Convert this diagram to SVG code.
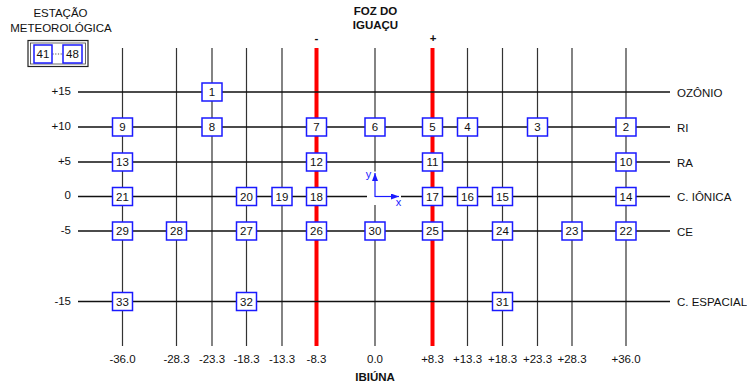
<svg xmlns="http://www.w3.org/2000/svg" width="747" height="387" viewBox="0 0 747 387">
  <style>
    text { font-family: "Liberation Sans", Arial, sans-serif; font-size: 11.5px; fill: #111; }
    .b { font-weight: bold; }
    .mid { text-anchor: middle; }
    .end { text-anchor: end; }
    .v { stroke: #333; stroke-width: 1.2; fill: none; }
    .h { stroke: #111; stroke-width: 1.4; fill: none; }
    .red { stroke: #ff0000; stroke-width: 4; fill: none; }
    .node rect { fill: #fff; stroke: #1a1aff; stroke-width: 1.5; }
    .node text { text-anchor: middle; }
    .axis { stroke: #1a1aff; stroke-width: 1.2; fill: none; }
    .axlbl { fill: #1a1aff; font-size: 11px; text-anchor: middle; }
  </style>
  <defs>
    <marker id="ah" markerWidth="8" markerHeight="6" refX="8" refY="3" orient="auto" markerUnits="userSpaceOnUse">
      <path d="M0,0 L8,3 L0,6 Z" fill="#1a1aff"/>
    </marker>
  </defs>

  <rect width="747" height="387" fill="#fff"/>

  <!-- titles -->
  <text class="mid" x="60.5" y="16.5" font-size="11">ESTAÇÃO</text>
  <text class="mid" x="61" y="32" font-size="11">METEOROLÓGICA</text>
  <text class="mid b" x="375.5" y="15">FOZ DO</text>
  <text class="mid b" x="375.5" y="29">IGUAÇU</text>
  <text class="mid b" x="316.5" y="42" font-size="14">-</text>
  <text class="mid b" x="433" y="42" font-size="14">+</text>
  <text class="mid b" x="375" y="381">IBIÚNA</text>

  <!-- connectors: grid lines -->
  <g id="connectors">
    <!-- vertical lines -->
    <path class="v" d="M122.5,48V346 M176.5,48V346 M212,48V346 M246.5,48V346 M282,48V346 M375,48V171.5 M375,205V346 M467.5,48V346 M502.5,48V346 M537.5,48V346 M572,48V346 M626,48V346"/>
    <path class="red" d="M316.5,48V346 M432.5,48V346"/>
    <!-- horizontal lines -->
    <path class="h" d="M78,92H670 M78,127H670 M78,162H670 M78,196.5H367 M401,196.5H670 M78,231H670 M78,301.5H670"/>
    <!-- reference axes -->
    <line class="axis" x1="375" y1="197" x2="375" y2="173" marker-end="url(#ah)"/>
    <line class="axis" x1="375" y1="196.5" x2="399" y2="196.5" marker-end="url(#ah)"/>
  </g>
  <text class="axlbl" x="368.5" y="178">y</text>
  <text class="axlbl" x="398.5" y="205.5">x</text>

  <!-- row labels -->
  <text class="end" x="71" y="95">+15</text>
  <text class="end" x="71" y="130">+10</text>
  <text class="end" x="71" y="165">+5</text>
  <text class="end" x="71" y="199">0</text>
  <text class="end" x="71" y="234">-5</text>
  <text class="end" x="71" y="304.5">-15</text>

  <text x="677" y="96.5">OZÔNIO</text>
  <text x="677" y="131.5">RI</text>
  <text x="677" y="166.5">RA</text>
  <text x="677" y="201">C. IÔNICA</text>
  <text x="677" y="235.5">CE</text>
  <text x="677" y="306">C. ESPACIAL</text>

  <!-- column labels -->
  <g class="mid">
    <text class="mid" x="122.5" y="363">-36.0</text>
    <text class="mid" x="176.5" y="363">-28.3</text>
    <text class="mid" x="212" y="363">-23.3</text>
    <text class="mid" x="246.5" y="363">-18.3</text>
    <text class="mid" x="282" y="363">-13.3</text>
    <text class="mid" x="316.5" y="363">-8.3</text>
    <text class="mid" x="375" y="363">0.0</text>
    <text class="mid" x="432.5" y="363">+8.3</text>
    <text class="mid" x="467.5" y="363">+13.3</text>
    <text class="mid" x="502.5" y="363">+18.3</text>
    <text class="mid" x="537.5" y="363">+23.3</text>
    <text class="mid" x="572" y="363">+28.3</text>
    <text class="mid" x="626" y="363">+36.0</text>
  </g>

  <!-- weather station -->
  <g id="station">
    <rect x="28" y="40.5" width="60" height="26" fill="#fff" stroke="#222" stroke-width="1.2"/>
    <rect x="30.5" y="43" width="55" height="21" fill="none" stroke="#444" stroke-width="0.8"/>
    <line x1="52.5" y1="54" x2="62" y2="54" stroke="#555" stroke-width="1" stroke-dasharray="1.2,1.5"/>
    <g id="n41" class="node"><rect x="34" y="45" width="18" height="18"/><text x="43" y="58">41</text></g>
    <g id="n48" class="node"><rect x="63" y="45" width="19" height="18"/><text x="72.5" y="58">48</text></g>
  </g>

  <!-- nodes -->
  <g id="n1" class="node"><rect x="202" y="83" width="20" height="18"/><text x="212" y="96">1</text></g>

  <g id="n9" class="node"><rect x="112.5" y="118" width="20" height="18"/><text x="122.5" y="131">9</text></g>
  <g id="n8" class="node"><rect x="202" y="118" width="20" height="18"/><text x="212" y="131">8</text></g>
  <g id="n7" class="node"><rect x="306.5" y="118" width="20" height="18"/><text x="316.5" y="131">7</text></g>
  <g id="n6" class="node"><rect x="365" y="118" width="20" height="18"/><text x="375" y="131">6</text></g>
  <g id="n5" class="node"><rect x="422.5" y="118" width="20" height="18"/><text x="432.5" y="131">5</text></g>
  <g id="n4" class="node"><rect x="457.5" y="118" width="20" height="18"/><text x="467.5" y="131">4</text></g>
  <g id="n3" class="node"><rect x="527.5" y="118" width="20" height="18"/><text x="537.5" y="131">3</text></g>
  <g id="n2" class="node"><rect x="616" y="118" width="20" height="18"/><text x="626" y="131">2</text></g>

  <g id="n13" class="node"><rect x="112.5" y="153" width="20" height="18"/><text x="122.5" y="166">13</text></g>
  <g id="n12" class="node"><rect x="306.5" y="153" width="20" height="18"/><text x="316.5" y="166">12</text></g>
  <g id="n11" class="node"><rect x="422.5" y="153" width="20" height="18"/><text x="432.5" y="166">11</text></g>
  <g id="n10" class="node"><rect x="616" y="153" width="20" height="18"/><text x="626" y="166">10</text></g>

  <g id="n21" class="node"><rect x="112.5" y="187.5" width="20" height="18"/><text x="122.5" y="200.5">21</text></g>
  <g id="n20" class="node"><rect x="236.5" y="187.5" width="20" height="18"/><text x="246.5" y="200.5">20</text></g>
  <g id="n19" class="node"><rect x="272" y="187.5" width="20" height="18"/><text x="282" y="200.5">19</text></g>
  <g id="n18" class="node"><rect x="306.5" y="187.5" width="20" height="18"/><text x="316.5" y="200.5">18</text></g>
  <g id="n17" class="node"><rect x="422.5" y="187.5" width="20" height="18"/><text x="432.5" y="200.5">17</text></g>
  <g id="n16" class="node"><rect x="457.5" y="187.5" width="20" height="18"/><text x="467.5" y="200.5">16</text></g>
  <g id="n15" class="node"><rect x="492.5" y="187.5" width="20" height="18"/><text x="502.5" y="200.5">15</text></g>
  <g id="n14" class="node"><rect x="616" y="187.5" width="20" height="18"/><text x="626" y="200.5">14</text></g>

  <g id="n29" class="node"><rect x="112.5" y="222" width="20" height="18"/><text x="122.5" y="235">29</text></g>
  <g id="n28" class="node"><rect x="166.5" y="222" width="20" height="18"/><text x="176.5" y="235">28</text></g>
  <g id="n27" class="node"><rect x="236.5" y="222" width="20" height="18"/><text x="246.5" y="235">27</text></g>
  <g id="n26" class="node"><rect x="306.5" y="222" width="20" height="18"/><text x="316.5" y="235">26</text></g>
  <g id="n30" class="node"><rect x="365" y="222" width="20" height="18"/><text x="375" y="235">30</text></g>
  <g id="n25" class="node"><rect x="422.5" y="222" width="20" height="18"/><text x="432.5" y="235">25</text></g>
  <g id="n24" class="node"><rect x="492.5" y="222" width="20" height="18"/><text x="502.5" y="235">24</text></g>
  <g id="n23" class="node"><rect x="562" y="222" width="20" height="18"/><text x="572" y="235">23</text></g>
  <g id="n22" class="node"><rect x="616" y="222" width="20" height="18"/><text x="626" y="235">22</text></g>

  <g id="n33" class="node"><rect x="112.5" y="292.5" width="20" height="18"/><text x="122.5" y="305.5">33</text></g>
  <g id="n32" class="node"><rect x="236.5" y="292.5" width="20" height="18"/><text x="246.5" y="305.5">32</text></g>
  <g id="n31" class="node"><rect x="492.5" y="292.5" width="20" height="18"/><text x="502.5" y="305.5">31</text></g>
</svg>
